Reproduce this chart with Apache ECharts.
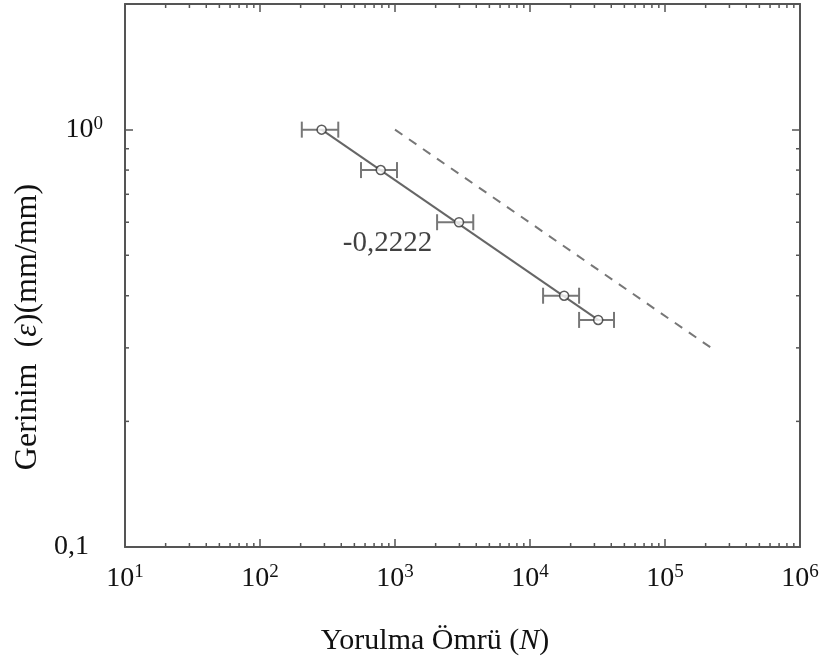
<!DOCTYPE html>
<html><head><meta charset="utf-8">
<script src="https://cdn.jsdelivr.net/npm/echarts@6/dist/echarts.min.js"></script>
<style>html,body{margin:0;padding:0;background:#fff}#c{width:830px;height:664px}</style>
</head><body><div id="c"></div>
<script>
// ---- data ----
const cycles      = [286, 784, 2980, 17900, 32000];   // N
const strain      = [1.0, 0.80, 0.60, 0.40, 0.35];     // mm/mm
const cyclesLow   = [204, 560, 2050, 12500, 23100];
const cyclesHigh  = [380, 1035, 3800, 23100, 41900];
const fitLine     = [[286, 1.0], [32000, 0.35]];
const refLine     = [[1000, 1.0], [220000, 0.30]];
const slopeText   = '-0,2222';
const slopeAt     = [880, 0.535];
const xMin = 10, xMax = 1e6, yMin = 0.1, yMax = 2;
const mantissas   = [2, 3, 4, 5, 6, 7, 8, 9];
const xDecades    = [10, 100, 1000, 10000, 100000];
const yDecades    = [0.1];
const yTickLabels = {0.1: '0,1'};

const xMinor = [], yMinor = [];
xDecades.forEach(d => mantissas.forEach(m => xMinor.push([m * d, yMin])));
yDecades.forEach(d => mantissas.forEach(m => yMinor.push([xMin, +(m * d).toFixed(3)])));

const FONT = '"Liberation Serif", "DejaVu Serif", serif';
const AX = '#555';
const chart = echarts.init(document.getElementById('c'));

function sup(v) {
  const e = Math.round(Math.log10(v));
  return '{b|10}{s|' + e + '}';
}
const rich = {
  b: {fontSize: 28, fontFamily: FONT, color: '#111'},
  s: {fontSize: 19, fontFamily: FONT, color: '#111', verticalAlign: 'top', padding: [0, 0, 12, 0]},
  p: {fontSize: 28, fontFamily: FONT, color: '#111', padding: [0, 14, 0, 0]}
};
const baseAxis = {
  type: 'log', logBase: 10,
  axisLine: {show: true, lineStyle: {color: AX, width: 2}},
  axisTick: {show: true, inside: true, length: 8, lineStyle: {color: AX, width: 1.5}},
  splitLine: {show: false},
  minorTick: {show: false}
};

function tickRender(horizontal) {
  return function (params, api) {
    const v = horizontal ? api.value(0) : api.value(1);
    let a, b;
    if (horizontal) { a = api.coord([v, yMin]); b = api.coord([v, yMax]); }
    else { a = api.coord([xMin, v]); b = api.coord([xMax, v]); }
    const L = 4;
    const st = {stroke: AX, lineWidth: 1.5};
    return {type: 'group', children: horizontal ? [
      {type: 'line', shape: {x1: a[0], y1: a[1], x2: a[0], y2: a[1] - L}, style: st},
      {type: 'line', shape: {x1: b[0], y1: b[1], x2: b[0], y2: b[1] + L}, style: st}
    ] : [
      {type: 'line', shape: {x1: a[0], y1: a[1], x2: a[0] + L, y2: a[1]}, style: st},
      {type: 'line', shape: {x1: b[0], y1: b[1], x2: b[0] - L, y2: b[1]}, style: st}
    ]};
  };
}

const errData = cycles.map((c, i) => [c, strain[i], cyclesLow[i], cyclesHigh[i]]);

chart.setOption({
  animation: false,
  backgroundColor: '#fff',
  grid: {left: 125, right: 30, top: 4, bottom: 117, containLabel: false},
  xAxis: [
    Object.assign({}, baseAxis, {min: xMin, max: xMax, position: 'bottom',
      axisLabel: {margin: 16, formatter: v => sup(v), rich: rich, showMinLabel: true, showMaxLabel: true}}),
    Object.assign({}, baseAxis, {min: xMin, max: xMax, position: 'top', axisLabel: {show: false}})
  ],
  yAxis: [
    Object.assign({}, baseAxis, {min: yMin, max: yMax, position: 'left',
      axisLabel: {margin: 22, showMaxLabel: false, rich: rich,
        formatter: v => yTickLabels[v] ? '{p|' + yTickLabels[v] + '}' : (Math.abs(v - 1) < 1e-9 ? sup(v) : '')}}),
    Object.assign({}, baseAxis, {min: yMin, max: yMax, position: 'right', axisLabel: {show: false}})
  ],
  graphic: [
    {type: 'text', x: 435, y: 641, style: {text: 'Yorulma Ömrü ({i|N})', font: '30px ' + FONT, fill: '#111',
      align: 'center', verticalAlign: 'middle',
      rich: {i: {fontStyle: 'italic', fontSize: 30, fontFamily: FONT, fill: '#111'}}}},
    {type: 'text', x: 28, y: 327, rotation: Math.PI / 2, style: {text: 'Gerinim  ({i|ε})(mm/mm)', font: '32px ' + FONT, fill: '#111',
      align: 'center', verticalAlign: 'middle',
      rich: {i: {fontStyle: 'italic', fontSize: 32, fontFamily: FONT, fill: '#111'}}}}
  ],
  series: [
    {type: 'custom', name: 'xminor', data: xMinor, renderItem: tickRender(true), clip: false, silent: true, encode: {x: 0, y: 1}},
    {type: 'custom', name: 'yminor', data: yMinor, renderItem: tickRender(false), clip: false, silent: true, encode: {x: 0, y: 1}},
    {type: 'line', name: 'ref', data: refLine, symbol: 'none',
      lineStyle: {color: '#777', width: 2, type: [9, 8]}},
    {type: 'line', name: 'fit', data: fitLine, symbol: 'none',
      lineStyle: {color: '#666', width: 2}},
    {type: 'custom', name: 'err', data: errData, encode: {x: 0, y: 1}, silent: true,
      renderItem: function (params, api) {
        const y = api.value(1);
        const lo = api.coord([api.value(2), y]);
        const hi = api.coord([api.value(3), y]);
        const h = 8, st = {stroke: '#777', lineWidth: 2};
        return {type: 'group', children: [
          {type: 'line', shape: {x1: lo[0], y1: lo[1], x2: hi[0], y2: hi[1]}, style: st},
          {type: 'line', shape: {x1: lo[0], y1: lo[1] - h, x2: lo[0], y2: lo[1] + h}, style: st},
          {type: 'line', shape: {x1: hi[0], y1: hi[1] - h, x2: hi[0], y2: hi[1] + h}, style: st}
        ]};
      }},
    {type: 'scatter', name: 'data', data: cycles.map((c, i) => [c, strain[i]]),
      symbol: 'circle', symbolSize: 9, z: 5,
      itemStyle: {color: '#fff', borderColor: '#333', borderWidth: 1.5}},
    {type: 'scatter', name: 'slope', data: [slopeAt], symbolSize: 1,
      itemStyle: {color: 'rgba(0,0,0,0)'},
      label: {show: true, position: 'inside', formatter: slopeText, fontSize: 29, fontFamily: FONT, color: '#111'}}
  ]
});
</script></body></html>
